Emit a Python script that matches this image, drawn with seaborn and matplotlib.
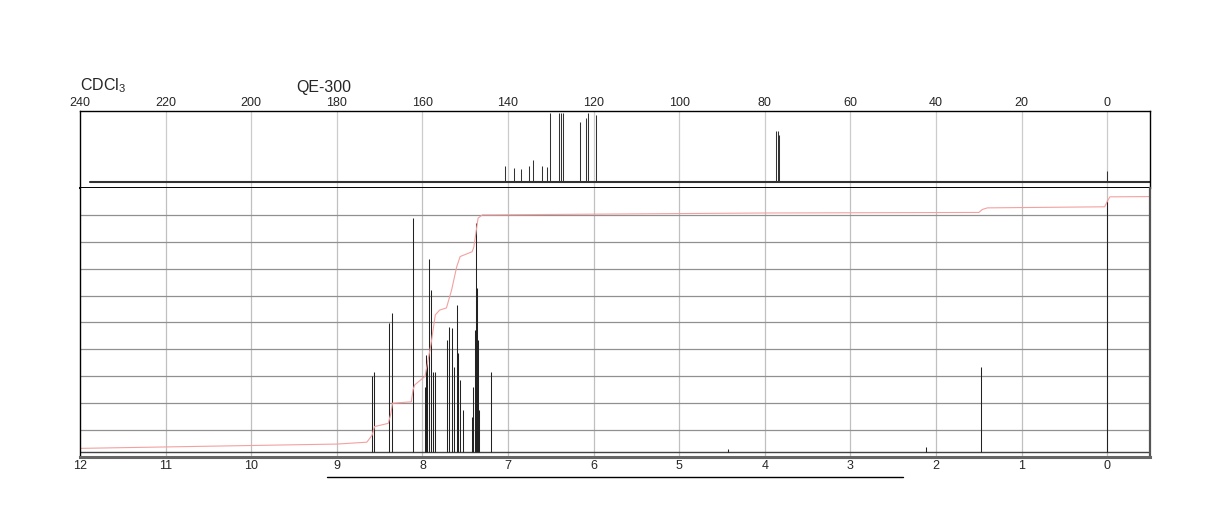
import matplotlib

matplotlib.use("Agg")

import pandas as pd
import seaborn as sns
from matplotlib import pyplot as plt
from matplotlib.lines import Line2D

# 13C spectrum (top panel): shift in ppm, peak height as fraction of panel
c13_shift = [140.7, 138.5, 137.0, 135.0, 134.1, 132.1, 130.8, 130.2,
             128.1, 127.7, 127.2, 123.1, 121.8, 121.4, 119.5,
             77.4, 77.0, 76.6, 0.0]
c13_height = [0.29, 0.26, 0.24, 0.29, 0.36, 0.28, 0.27, 0.97,
              0.97, 0.97, 0.97, 0.86, 0.90, 0.97, 0.94,
              0.74, 0.74, 0.69, 0.22]
c13_base = 0.08
c13_ticks = [240, 220, 200, 180, 160, 140, 120, 100, 80, 60, 40, 20, 0]

# 1H spectrum (bottom panel)
h1_shift = [8.592, 8.562, 8.387, 8.355, 8.113,
            7.973, 7.958, 7.943, 7.919, 7.899, 7.880, 7.853,
            7.709, 7.685, 7.658, 7.631, 7.600, 7.580, 7.557, 7.529,
            7.420, 7.405, 7.390, 7.374, 7.367, 7.355, 7.335,
            7.195, 4.43, 2.117, 1.474, 0.0]
h1_height = [0.300, 0.317, 0.498, 0.535, 0.887,
             0.260, 0.379, 0.350, 0.735, 0.621, 0.317, 0.317,
             0.435, 0.484, 0.478, 0.336, 0.565, 0.387, 0.286, 0.175,
             0.150, 0.260, 0.472, 0.869, 0.627, 0.435, 0.175,
             0.317, 0.030, 0.038, 0.333, 0.955]
h1_base = 0.02
h1_ticks = [12, 11, 10, 9, 8, 7, 6, 5, 4, 3, 2, 1, 0]

# integration trace (red)
integ_ppm = [12.0, 9.0, 8.65, 8.59, 8.56, 8.40, 8.37, 8.35, 8.13, 8.11,
             8.09, 7.97, 7.90, 7.85, 7.80, 7.72, 7.66, 7.60, 7.56, 7.42,
             7.40, 7.35, 7.30, 7.20, 4.0, 1.50, 1.46, 1.40, 0.03, 0.0,
             -0.03, -0.5]
integ_level = [0.032, 0.048, 0.055, 0.080, 0.113, 0.125, 0.160, 0.200, 0.205, 0.250,
               0.268, 0.300, 0.420, 0.528, 0.546, 0.554, 0.620, 0.707, 0.745, 0.763,
               0.780, 0.888, 0.900, 0.900, 0.907, 0.909, 0.920, 0.926, 0.930, 0.950,
               0.967, 0.968]

sns.set_style("white")
plt.rcParams["font.family"] = ["Liberation Sans", "DejaVu Sans"]
plt.rcParams["mathtext.fontset"] = "custom"
plt.rcParams["mathtext.rm"] = "Liberation Sans"
plt.rcParams["mathtext.default"] = "regular"

fig = plt.figure(figsize=(12.24, 5.28), dpi=100)
ax_c = fig.add_axes([0.0654, 0.6439, 0.8742, 0.1464])
ax_h = fig.add_axes([0.0654, 0.1345, 0.8742, 0.5095])

# --- top: 13C ---
for t in c13_ticks[1:]:
    ax_c.axvline(t, color="#cccccc", lw=0.9, zorder=0)
base_c = pd.DataFrame({"ppm": [237.7, -10], "y": [c13_base, c13_base]})
sns.lineplot(data=base_c, x="ppm", y="y", ax=ax_c, color="#333333", lw=1.5)
ax_c.vlines(c13_shift, c13_base, c13_height, color="#333333", lw=0.75)
ax_c.set_xlim(240, -10)
ax_c.set_ylim(0, 1)
ax_c.set_xticks(c13_ticks)
ax_c.set_xticklabels([str(t) for t in c13_ticks], fontsize=9)
ax_c.xaxis.tick_top()
ax_c.tick_params(axis="x", length=0, pad=1.5, top=True, bottom=False)
ax_c.set_yticks([])
ax_c.set_xlabel("")
ax_c.set_ylabel("")
for s in ax_c.spines.values():
    s.set_color("black")
    s.set_linewidth(1.0)
ax_c.spines["bottom"].set_linewidth(1.4)

# --- bottom: 1H ---
for t in h1_ticks[1:]:
    ax_h.axvline(t, color="#c0c0c0", lw=0.9, zorder=0)
for k in range(1, 10):
    ax_h.axhline(k / 10, color="#909090", lw=0.9, zorder=0)
base_h = pd.DataFrame({"ppm": [12, -0.5], "y": [h1_base, h1_base]})
sns.lineplot(data=base_h, x="ppm", y="y", ax=ax_h, color="#444444", lw=1.0)
ax_h.vlines(h1_shift, h1_base, h1_height, color="#222222", lw=0.75)
integ = pd.DataFrame({"ppm": integ_ppm, "level": integ_level})
sns.lineplot(data=integ, x="ppm", y="level", ax=ax_h, color="#f4a0a0",
             lw=0.8, sort=False)
ax_h.set_xlim(12, -0.5)
ax_h.set_ylim(0, 1)
ax_h.set_xticks(h1_ticks)
ax_h.set_xticklabels([str(t) for t in h1_ticks], fontsize=9)
ax_h.tick_params(axis="x", length=0, pad=2.5)
ax_h.set_yticks([])
ax_h.set_xlabel("")
ax_h.set_ylabel("")
ax_h.spines["top"].set_visible(False)
ax_h.spines["left"].set_color("black")
ax_h.spines["left"].set_linewidth(1.0)
ax_h.spines["right"].set_color("#555555")
ax_h.spines["right"].set_linewidth(1.6)
ax_h.spines["bottom"].set_color("#666666")
ax_h.spines["bottom"].set_linewidth(2.2)

fig.text(80 / 1224, 1 - 90.7 / 528, "CDCl$_3$", fontsize=11.5, va="baseline")
fig.text(296 / 1224, 1 - 91.7 / 528, "QE-300", fontsize=11.5, va="baseline")
fig.add_artist(Line2D([327 / 1224, 903 / 1224], [1 - 477 / 528, 1 - 477 / 528],
                      color="black", lw=1.0))

fig.savefig("out.png", dpi=100, facecolor="white")
